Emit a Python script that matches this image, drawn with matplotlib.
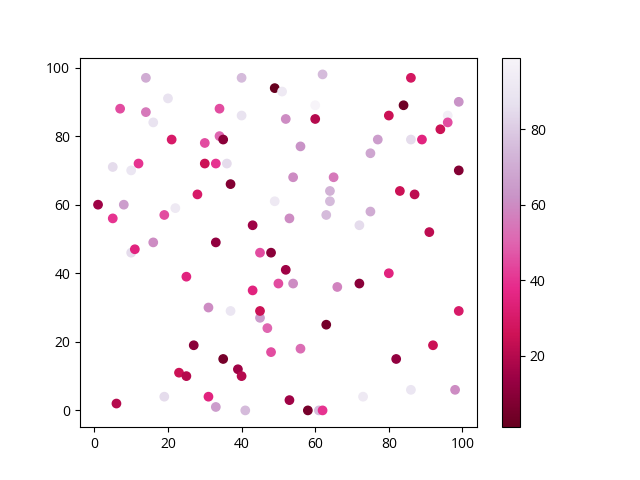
import matplotlib
matplotlib.use("Agg")
import matplotlib.pyplot as plt
import numpy as np

plt.rcParams['font.family'] = ['Open Sans', 'DejaVu Sans']

x = [1, 5, 5, 6, 7, 8, 10, 10, 11, 12,
     14, 14, 16, 16, 19, 19, 20, 21, 22, 23,
     25, 25, 27, 28, 30, 30, 31, 31, 33, 33,
     33, 34, 34, 35, 35, 36, 37, 37, 39, 40,
     40, 40, 41, 43, 43, 45, 45, 45, 47, 48,
     48, 49, 49, 50, 51, 52, 52, 53, 53, 54,
     54, 56, 56, 58, 60, 60, 61, 62, 62, 63,
     63, 64, 64, 65, 66, 72, 72, 73, 75, 75,
     77, 80, 80, 82, 83, 84, 86, 86, 86, 87,
     89, 91, 92, 94, 96, 96, 98, 99, 99, 99]
y = [60, 56, 71, 2, 88, 60, 46, 70, 47, 72,
     97, 87, 84, 49, 57, 4, 91, 79, 59, 11,
     10, 39, 19, 63, 78, 72, 30, 4, 1, 49,
     72, 80, 88, 79, 15, 72, 66, 29, 12, 10,
     97, 86, 0, 35, 54, 46, 27, 29, 24, 46,
     17, 94, 61, 37, 93, 85, 41, 56, 3, 68,
     37, 77, 18, 0, 85, 89, 0, 0, 98, 25,
     57, 64, 61, 68, 36, 54, 37, 4, 75, 58,
     79, 86, 40, 15, 64, 89, 97, 79, 6, 63,
     79, 52, 19, 82, 86, 84, 6, 90, 70, 29]
c = [15, 40, 85, 20, 45, 65, 85, 90, 35, 40,
     70, 55, 88, 60, 45, 85, 88, 30, 92, 25,
     20, 35, 10, 30, 45, 25, 60, 35, 65, 12,
     40, 50, 45, 10, 5, 85, 8, 90, 15, 20,
     75, 88, 75, 35, 15, 45, 65, 25, 50, 10,
     45, 1, 92, 45, 92, 60, 15, 60, 15, 60,
     60, 62, 52, 5, 20, 99, 75, 40, 75, 5,
     75, 72, 75, 55, 58, 85, 10, 92, 68, 70,
     65, 25, 35, 12, 25, 3, 28, 85, 90, 22,
     35, 22, 25, 25, 95, 45, 60, 62, 8, 30]

fig, ax = plt.subplots(figsize=(6.4, 4.8), dpi=100)
sc = ax.scatter(x, y, c=c, cmap='PuRd_r', vmin=1, vmax=99)
fig.colorbar(sc, ax=ax)
fig.savefig('out.png')
